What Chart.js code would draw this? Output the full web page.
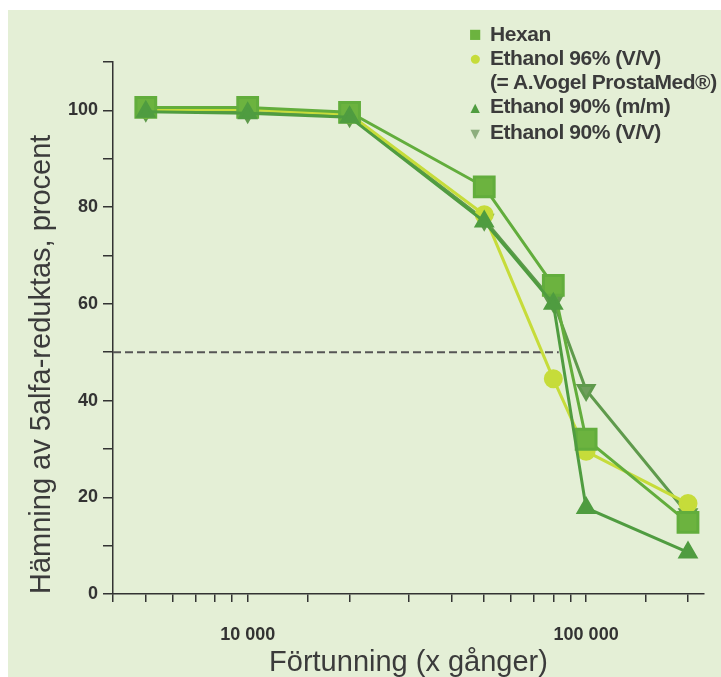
<!DOCTYPE html>
<html>
<head>
<meta charset="utf-8">
<script src="https://cdn.jsdelivr.net/npm/chart.js@4.4.1/dist/chart.umd.min.js"></script>
<style>
    body { margin: 0; background: #ffffff; }
    #wrap { position: relative; width: 721px; height: 677px; }
    #bg { position: absolute; left: 8px; top: 10px; right: 0; bottom: 0; background: #e4efd6; }
    #chart { position: absolute; left: 0; top: 0; }
    #legend {
        position: absolute; left: 467px; top: 22px;
        font-family: "Liberation Sans", Arial, sans-serif; font-weight: bold;
        font-size: 21px; color: #3b3b3b; line-height: 24px; letter-spacing: -0.45px;
    }
    #legend div { white-space: nowrap; }
    #legend .mk { display: inline-block; width: 16px; text-align: center; margin-right: 7px; font-size: 21px; }
    #legend .pad { padding-left: 23px; }
</style>
</head>
<body>
<div id="wrap">
    <div id="bg"></div>
    <canvas id="chart" width="721" height="677"></canvas>
    <div id="legend">
        <div><span class="mk" style="color:#6cb33f">&#9632;</span>Hexan</div>
        <div><span class="mk" style="color:#c6dc3a">&#9679;</span>Ethanol 96% (V/V)</div>
        <div class="pad">(= A.Vogel ProstaMed®)</div>
        <div><span class="mk" style="color:#4f9c40; font-size:16px">&#9650;</span>Ethanol 90% (m/m)</div>
        <div><span class="mk" style="color:#8dae7e; font-size:16px">&#9660;</span>Ethanol 90% (V/V)</div>
    </div>
</div>
<script>
// Dilution (x times) and inhibition in percent
const dilutions = [5000, 10000, 20000, 50000, 80000, 100000, 200000];
const hexan = [100.6, 100.6, 99.6, 84.2, 63.8, 32.0, 14.8];
const ethanol96 = [100.2, 100.2, 99.2, 78.4, 44.5, 29.5, 18.7];
const ethanol90mm = [99.7, 99.4, 98.6, 77.0, 60.0, 17.8, 8.6];
const ethanol90vv = [99.9, 99.6, 98.8, 77.4, 60.5, 42.2, 16.5];

// 50 % reference line
const halfLineX = [4000, 83000];
const halfLineY = [50, 50];

// axis ticks
const xLabels = { 10000: '10 000', 100000: '100 000' };
const yLabels = [0, 20, 40, 60, 80, 100];

function points(ys) {
    return dilutions.map((x, i) => ({ x: x, y: ys[i] }));
}

const axisColor = '#333333';
const tickFont = { family: '"Liberation Sans", Arial, sans-serif', size: 18, weight: 'bold' };
const titleFont = { family: '"Liberation Sans", Arial, sans-serif', size: 29, lineHeight: 1 };

new Chart(document.getElementById('chart'), {
    type: 'line',
    data: {
        datasets: [
            {
                label: 'Ethanol 90% (m/m)',
                data: points(ethanol90mm),
                borderColor: '#4f9c40', backgroundColor: '#4f9c40',
                pointStyle: 'triangle', pointRadius: 9, borderWidth: 3,
                order: 0
            },
            {
                label: 'Hexan',
                data: points(hexan),
                borderColor: '#62ad3c', backgroundColor: '#6cb33f',
                pointStyle: 'rect', pointRadius: 14, borderWidth: 3,
                order: 1
            },
            {
                label: 'Ethanol 96% (V/V)',
                data: points(ethanol96),
                borderColor: '#c6dc3a', backgroundColor: '#c6dc3a',
                pointStyle: 'circle', pointRadius: 8, borderWidth: 3,
                order: 2
            },
            {
                label: 'Ethanol 90% (V/V)',
                data: points(ethanol90vv),
                borderColor: '#5f9a4c', backgroundColor: '#6f9f5c',
                pointStyle: 'triangle', rotation: 180, pointRadius: 9, borderWidth: 3,
                order: 3
            },
            {
                label: '50%',
                data: halfLineX.map((x, i) => ({ x: x, y: halfLineY[i] })),
                borderColor: '#555555', borderWidth: 2, borderDash: [8, 4],
                pointRadius: 0, order: 4
            }
        ]
    },
    options: {
        responsive: false,
        animation: false,
        layout: { padding: { left: 8, top: 62, right: 3, bottom: 0 } },
        plugins: {
            legend: { display: false },
            tooltip: { enabled: false }
        },
        elements: { line: { tension: 0 }, point: { borderWidth: 0 } },
        scales: {
            x: {
                type: 'logarithmic',
                min: 4000,
                max: 223000,
                afterFit: function(scale) {
                    scale.height = 83;
                    scale.paddingLeft = 0;
                    scale.paddingRight = 0;
                },
                afterBuildTicks: function(scale) {
                    scale.ticks = scale.ticks.filter(t => t.value <= 200000);
                },
                border: { color: axisColor, width: 1.5 },
                grid: { drawOnChartArea: false, tickLength: 8, color: axisColor, lineWidth: 1.5 },
                ticks: {
                    autoSkip: false, maxRotation: 0, padding: 22,
                    color: '#333333', font: tickFont,
                    callback: function(value) { return xLabels[value] || ''; }
                },
                title: {
                    display: true, text: 'Förtunning (x gånger)',
                    color: '#3b3b3b', font: titleFont, padding: { top: 0, bottom: 0 }
                }
            },
            y: {
                min: 0,
                max: 110,
                afterFit: function(scale) { scale.width = 105; },
                border: { color: axisColor, width: 1.5 },
                grid: { drawOnChartArea: false, tickLength: 10, color: axisColor, lineWidth: 1.5 },
                ticks: {
                    stepSize: 10, padding: 5,
                    color: '#333333', font: tickFont,
                    callback: function(value) { return yLabels.includes(value) ? String(value) : ''; }
                },
                title: {
                    display: true, text: 'Hämning av 5alfa-reduktas, procent', align: 'start',
                    color: '#3b3b3b', font: titleFont, padding: { top: 19, bottom: 0 }
                }
            }
        }
    }
});
</script>
</body>
</html>
